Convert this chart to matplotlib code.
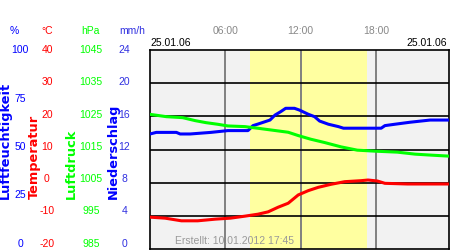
import matplotlib
matplotlib.use("Agg")
import matplotlib.pyplot as plt

# values (hours of the day)
hum_hours = [0.0, 0.5, 2.1, 2.4, 3.2, 4.85, 6.2, 7.8, 8.2, 8.6, 9.55, 9.95, 10.4, 10.8,
             11.5, 11.9, 12.6, 13.1, 13.5, 14.2, 15.0, 15.4, 18.4, 18.7, 19.5, 20.7, 22.3, 23.8]
humidity = [57.8, 58.6, 58.6, 57.8, 57.8, 58.6, 59.5, 59.5, 62.0, 62.8, 64.8, 67.3, 69.0, 70.7,
            70.7, 69.8, 67.7, 66.5, 64.3, 62.7, 61.5, 60.7, 60.7, 62.0, 62.7, 63.7, 64.8, 64.8]

pres_hours = [0.0, 1.3, 2.6, 3.6, 4.45, 5.4, 6.2, 7.55, 8.6, 9.6, 11.0, 11.8, 12.8, 13.9,
              15.2, 16.5, 17.9, 19.7, 21.1, 22.4, 23.8]
pressure = [1025.6, 1024.9, 1024.6, 1023.7, 1023.1, 1022.6, 1022.1, 1021.9, 1021.4, 1020.9,
            1020.2, 1019.2, 1018.1, 1017.1, 1015.8, 1014.8, 1014.5, 1014.2, 1013.6, 1013.3, 1013.0]

temp_hours = [0.0, 1.2, 2.5, 3.8, 5.2, 6.4, 7.55, 8.6, 9.4, 10.2, 11.0, 11.8, 12.6, 13.4,
              14.4, 15.5, 16.8, 17.35, 18.1, 18.7, 20.5, 23.8]
temperature = [-10.4, -10.7, -11.5, -11.5, -11.0, -10.7, -10.1, -9.5, -8.8, -7.4, -6.2, -3.7,
               -2.4, -1.4, -0.5, 0.3, 0.6, 0.8, 0.5, -0.2, -0.4, -0.4]

day_start, day_end = 7.95, 17.3
time_ticks = [6, 12, 18]
time_labels = ["06:00", "12:00", "18:00"]

hum_labels = ["100", "75", "50", "25", "0"]
temp_labels = ["40", "30", "20", "10", "0", "-10", "-20"]
pres_labels = ["1045", "1035", "1025", "1015", "1005", "995", "985"]
prec_labels = ["24", "20", "16", "12", "8", "4", "0"]

W, H = 450, 250
fig = plt.figure(figsize=(4.5, 2.5), dpi=100)
fig.patch.set_facecolor("white")
font = "Liberation Sans"

ax = fig.add_axes([150 / W, 1 / H, 299 / W, 199 / H])
ax.set_facecolor("#f2f2f2")
ax.set_xlim(0, 23.8)
ax.set_ylim(-20, 40)
ax.axvspan(day_start, day_end, color="#ffffa0", lw=0, zorder=0)
ax.set_xticks(time_ticks)
ax.set_xticklabels(time_labels, family=font, fontsize=7.5, color="#888888")
ax.xaxis.tick_top()
ax.tick_params(axis="x", length=0, pad=10)
ax.set_yticks([-10, 0, 10, 20, 30])
ax.tick_params(axis="y", length=0, labelleft=False)
ax.grid(axis="x", color="#808080", lw=1.4)
ax.grid(axis="y", color="black", lw=1.2)
ax.set_axisbelow(True)
for s in ax.spines.values():
    s.set_color("black")
    s.set_linewidth(1.2)

ax.plot(temp_hours, temperature, color="#ff0000", lw=2.2, zorder=3)

ax_h = ax.twinx()
ax_h.set_ylim(0, 100)
ax_h.plot(hum_hours, humidity, color="#0000ff", lw=2.2, zorder=3)

ax_p = ax.twinx()
ax_p.set_ylim(985, 1045)
ax_p.plot(pres_hours, pressure, color="#00ff00", lw=2.2, zorder=4)

for a in (ax_h, ax_p):
    a.set_yticks([])
    for s in a.spines.values():
        s.set_visible(False)


def put(x, y, s, **kw):
    fig.text(x / W, 1 - y / H, s, **kw)


# headers
put(14, 31, "%", ha="center", va="center", color="#0000ff", family=font, fontsize=7.5)
put(47, 31, "°C", ha="center", va="center", color="#ff0000", family=font, fontsize=7.5)
put(90, 31, "hPa", ha="center", va="center", color="#00ff00", family=font, fontsize=7.5)
put(132, 31, "mm/h", ha="center", va="center", color="#3030e0", family=font, fontsize=7.5)

# scale labels
for i, s in enumerate(hum_labels):
    put(20, 50 + i * 48.5, s, ha="center", va="center", color="#0000ff", family=font, fontsize=7.5)
for i, s in enumerate(temp_labels):
    put(47, 50 + i * 32.3, s, ha="center", va="center", color="#ff0000", family=font, fontsize=7.5)
for i, s in enumerate(pres_labels):
    put(91, 50 + i * 32.3, s, ha="center", va="center", color="#00ff00", family=font, fontsize=7.5)
for i, s in enumerate(prec_labels):
    put(124.5, 50 + i * 32.3, s, ha="center", va="center", color="#3030e0", family=font, fontsize=7.5)

# axis titles
put(5, 199, "Luftfeuchtigkeit", rotation=90, ha="center", va="bottom", color="#0000ff",
    fontweight="bold", fontsize=9.3)
put(34, 199, "Temperatur", rotation=90, ha="center", va="bottom", color="#ff0000",
    fontweight="bold", fontsize=9.3)
put(71.5, 199, "Luftdruck", rotation=90, ha="center", va="bottom", color="#00ff00",
    fontweight="bold", fontsize=9.3)
put(113.5, 199, "Niederschlag", rotation=90, ha="center", va="bottom", color="#0000ff",
    fontweight="bold", fontsize=9.3)

# dates and footer
put(150, 43, "25.01.06", ha="left", va="center", color="black", family=font, fontsize=7.5)
put(447, 43, "25.01.06", ha="right", va="center", color="black", family=font, fontsize=7.5)
put(175, 241, "Erstellt: 10.01.2012 17:45", ha="left", va="center", color="#999999",
    family=font, fontsize=7.5)

fig.savefig("out.png", dpi=100)
